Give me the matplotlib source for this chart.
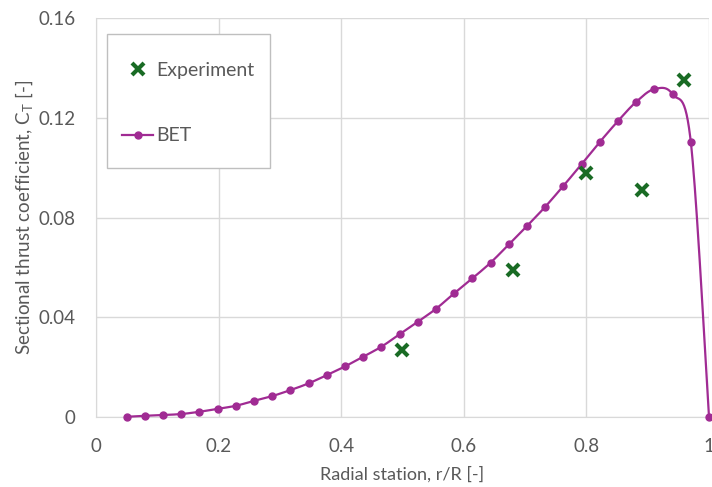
import numpy as np
import matplotlib
matplotlib.use('Agg')
import matplotlib.pyplot as plt
from matplotlib.lines import Line2D
from matplotlib.patches import Rectangle

# BET sectional thrust, 33 stations from r/R = 0.05 to 1
bet_r = np.linspace(0.05, 1.0, 33)
bet_ct = [0.0001, 0.0005, 0.0008, 0.0012, 0.0021, 0.0033, 0.0045, 0.0065,
          0.0084, 0.0108, 0.0135, 0.0168, 0.0203, 0.0242, 0.0282, 0.0332,
          0.0382, 0.0434, 0.0496, 0.0556, 0.0619, 0.0692, 0.0766, 0.0843,
          0.0927, 0.1014, 0.1103, 0.1187, 0.1264, 0.1315, 0.1294, 0.1103,
          0.0]

# measured points
exp_r = [0.50, 0.68, 0.80, 0.89, 0.96]
exp_ct = [0.027, 0.059, 0.098, 0.091, 0.135]

xticks = [0, 0.2, 0.4, 0.6, 0.8, 1.0]
xticklabels = ['0', '0.2', '0.4', '0.6', '0.8', '1']
yticks = [0, 0.04, 0.08, 0.12, 0.16]
yticklabels = ['0', '0.04', '0.08', '0.12', '0.16']

purple = '#A02B93'
green = '#196B24'
txt = '#595959'
grid = '#D9D9D9'

plt.rcParams['font.family'] = ['Lato', 'DejaVu Sans']


def smooth(x, y, n=30):
    # excel-like smoothed line: cubic bezier with catmull-rom control points
    x = np.asarray(x, float)
    y = np.asarray(y, float)
    px = np.concatenate([[x[0]], x, [x[-1]]])
    py = np.concatenate([[y[0]], y, [y[-1]]])
    t = np.linspace(0, 1, n, endpoint=False)[:, None]
    xs, ys = [], []
    for i in range(len(x) - 1):
        p0 = np.array([px[i + 1], py[i + 1]])
        p3 = np.array([px[i + 2], py[i + 2]])
        p1 = p0 + (p3 - np.array([px[i], py[i]])) / 6
        p2 = p3 - (np.array([px[i + 3], py[i + 3]]) - p0) / 6
        seg = ((1 - t) ** 3) * p0 + 3 * ((1 - t) ** 2) * t * p1 \
            + 3 * (1 - t) * t ** 2 * p2 + t ** 3 * p3
        xs.append(seg[:, 0])
        ys.append(seg[:, 1])
    xs.append([x[-1]])
    ys.append([y[-1]])
    return np.concatenate(xs), np.concatenate(ys)


fig = plt.figure(figsize=(7.12, 4.87), dpi=100)
ax = fig.add_axes([0.1348, 0.1437, 0.8610, 0.8193])

sx, sy = smooth(bet_r, bet_ct)
ax.plot(sx, sy, color=purple, lw=1.6, zorder=3, clip_on=False)
ax.plot(bet_r, bet_ct, 'o', color=purple, ms=5, zorder=4, clip_on=False)
ax.plot(exp_r, exp_ct, 'x', color=green, ms=8, mew=3, zorder=5, clip_on=False)

ax.set_xlim(0, 1)
ax.set_ylim(0, 0.16)
ax.set_xticks(xticks)
ax.set_xticklabels(xticklabels)
ax.set_yticks(yticks)
ax.set_yticklabels(yticklabels)
ax.tick_params(length=0, labelsize=13.5, colors=txt, pad=15)
ax.grid(True, color=grid, lw=1)
ax.set_axisbelow(True)
for s in ['top', 'right']:
    ax.spines[s].set_visible(False)
for s in ['left', 'bottom']:
    ax.spines[s].set_color(grid)

ax.set_xlabel('Radial station, r/R [-]', fontsize=13, color=txt, labelpad=8)
ax.set_ylabel(r'Sectional thrust coefficient, C$_\mathregular{T}$ [-]',
              fontsize=13.5, color=txt, labelpad=2)

# legend box drawn separately so the padding can differ per side
ax.add_patch(Rectangle((0.0185, 0.625), 0.2655, 0.334, transform=ax.transAxes,
                       facecolor='white', edgecolor='#BFBFBF', lw=1, zorder=6))
handles = [
    Line2D([], [], ls='none', marker='x', color=green, ms=8, mew=3),
    Line2D([], [], color=purple, lw=1.6, marker='o', ms=5),
]
leg = ax.legend(handles, ['Experiment', 'BET'], loc='center left',
                bbox_to_anchor=(0.042, 0.787), borderaxespad=0, borderpad=0,
                fontsize=14, labelcolor=txt, frameon=False, numpoints=1,
                handlelength=1.63, handletextpad=0.17, labelspacing=2.5)
leg.set_zorder(7)

fig.savefig('out.png', dpi=100)
